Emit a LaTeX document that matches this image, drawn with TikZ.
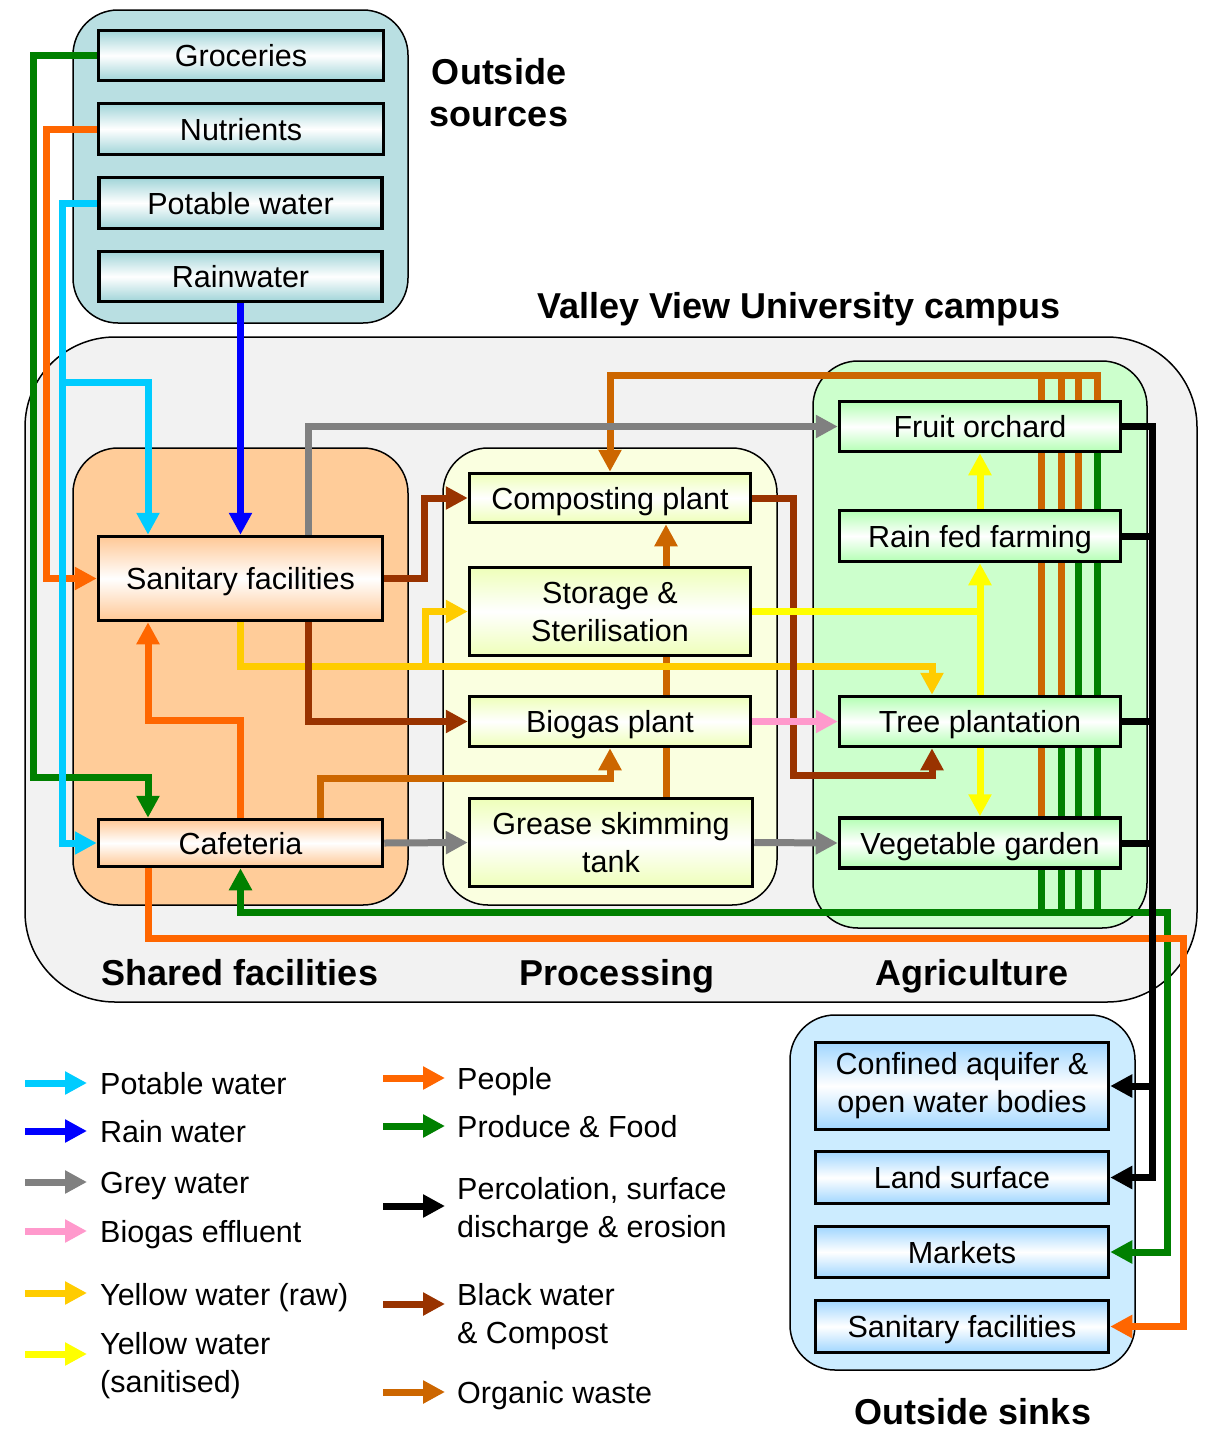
\documentclass[tikz,border=0pt]{standalone}
\usepackage{fontspec}
\setmainfont{Liberation Sans}
\usetikzlibrary{arrows.meta}
\pgfdeclarelayer{bg}
\pgfdeclarelayer{lines}
\pgfsetlayers{bg,lines,main}
\definecolor{cPot}{RGB}{0,204,255}
\definecolor{cRain}{RGB}{0,0,255}
\definecolor{cGrey}{RGB}{128,128,128}
\definecolor{cPink}{RGB}{255,153,204}
\definecolor{cYraw}{RGB}{255,204,0}
\definecolor{cYsan}{RGB}{255,255,0}
\definecolor{cPeople}{RGB}{255,102,0}
\definecolor{cProd}{RGB}{0,128,0}
\definecolor{cBW}{RGB}{153,51,0}
\definecolor{cOrg}{RGB}{204,102,0}
\definecolor{fSrc}{RGB}{185,223,226}
\definecolor{fCamp}{RGB}{242,242,242}
\definecolor{fShared}{RGB}{255,204,153}
\definecolor{fProc}{RGB}{250,255,224}
\definecolor{fAgri}{RGB}{204,255,204}
\definecolor{fSink}{RGB}{204,236,255}
\definecolor{gSrc}{RGB}{160,212,216}
\definecolor{gShared}{RGB}{255,200,150}
\definecolor{gProc}{RGB}{238,255,185}
\definecolor{gAgri}{RGB}{180,255,180}
\definecolor{gSink}{RGB}{160,214,255}
\newcommand\vvBoxFont{\fontsize{30.5}{38}\selectfont}
\newcommand\vvTitleFont{\fontsize{36}{42}\selectfont\bfseries}
\tikzset{
  conn/.style={line width=7pt},
  flow/.style={line width=7pt, -{Triangle[length=22pt,width=22pt]}},
  container/.style={draw=black, line width=1.5pt, rounded corners=45pt},
  box/.style={draw=black, line width=3.5pt, inner sep=0pt, align=center, font=\vvBoxFont},
  one/.style={text height=22pt, text depth=0pt},
  srcbox/.style={box, top color=gSrc, bottom color=gSrc, middle color=white},
  shbox/.style={box, top color=gShared, bottom color=gShared, middle color=white},
  prbox/.style={box, top color=gProc, bottom color=gProc, middle color=white},
  agbox/.style={box, top color=gAgri, bottom color=gAgri, middle color=white},
  skbox/.style={box, top color=gSink, bottom color=gSink, middle color=white},
  title/.style={font=\vvTitleFont, inner sep=0pt, align=center},
  titleone/.style={title, text height=26pt, text depth=0pt},
  legtext/.style={font=\vvBoxFont, inner sep=0pt, anchor=base west, align=left},
}
\begin{document}
\begin{tikzpicture}[x=1pt,y=-1pt]
\useasboundingbox (0,0) rectangle (1215,1430);

% ---------- boxes ----------
\node[srcbox,one,minimum width=285pt,minimum height=50pt] (groc) at (241,55.5) {Groceries};
\node[srcbox,one,minimum width=285pt,minimum height=51pt] (nutr) at (241,129) {Nutrients};
\node[srcbox,one,minimum width=283pt,minimum height=51pt] (pot) at (240.5,203) {Potable water};
\node[srcbox,one,minimum width=283pt,minimum height=50pt] (rain) at (240.5,276.5) {Rainwater};

\node[shbox,one,minimum width=284pt,minimum height=84pt] (san) at (240.5,578.5) {Sanitary facilities};
\node[shbox,one,minimum width=284pt,minimum height=47pt] (caf) at (240.5,843) {Cafeteria};

\node[prbox,one,minimum width=281pt,minimum height=49pt] (comp) at (610,498) {Composting plant};
\node[prbox,minimum width=281pt,minimum height=88pt] (stor) at (610,611.5) {Storage \&\\Sterilisation};
\node[prbox,one,minimum width=281pt,minimum height=50pt] (bio) at (610,721.5) {Biogas plant};
\node[prbox,minimum width=283pt,minimum height=88pt] (grease) at (611,842.5) {Grease skimming\\tank};

\node[agbox,one,minimum width=281pt,minimum height=50pt] (fruit) at (980,426.5) {Fruit orchard};
\node[agbox,one,minimum width=281pt,minimum height=51pt] (rf) at (980,536) {Rain fed farming};
\node[agbox,one,minimum width=281pt,minimum height=50pt] (tree) at (980,721.5) {Tree plantation};
\node[agbox,one,minimum width=281pt,minimum height=50pt] (veg) at (980,843) {Vegetable garden};

\node[skbox,minimum width=293pt,minimum height=87pt] (conf) at (962,1086) {Confined aquifer \&\\open water bodies};
\node[skbox,one,minimum width=293pt,minimum height=52pt] (land) at (962,1177.5) {Land surface};
\node[skbox,one,minimum width=293pt,minimum height=51pt] (mkt) at (962,1252) {Markets};
\node[skbox,one,minimum width=293pt,minimum height=52pt] (ssan) at (962,1326.5) {Sanitary facilities};

% ---------- titles ----------
\node[title] (tsrc) at (499,93) {Outside\\sources};
\node[titleone] (tcamp) at (799,305) {Valley View University campus};
\node[titleone] (tshared) at (240,972) {Shared facilities};
\node[titleone] (tproc) at (617,972) {Processing};
\node[titleone] (tagri) at (972,972) {Agriculture};
\node[titleone] (tsinks) at (973,1411) {Outside sinks};

% ---------- legend ----------
\node[legtext] (lpot) at (100,1094) {Potable water};
\node[legtext] (lrain) at (100,1142) {Rain water};
\node[legtext] (lgrey) at (100,1193) {Grey water};
\node[legtext] (lbio) at (100,1242) {Biogas effluent};
\node[legtext] (lyraw) at (100,1305) {Yellow water (raw)};
\node[legtext] (lysan) at (100,1392) {Yellow water\\(sanitised)};
\node[legtext] (lpeo) at (457,1089) {People};
\node[legtext] (lprod) at (457,1137) {Produce \& Food};
\node[legtext] (lperc) at (457,1237) {Percolation, surface\\discharge \& erosion};
\node[legtext] (lbw) at (457,1343) {Black water\\\& Compost};
\node[legtext] (lorg) at (457,1403) {Organic waste};

\draw[flow,cPot] (25,1083) -- (87,1083);
\draw[flow,cRain] (25,1131) -- (87,1131);
\draw[flow,cGrey] (25,1182) -- (87,1182);
\draw[flow,cPink] (25,1231) -- (87,1231);
\draw[flow,cYraw] (25,1293) -- (87,1293);
\draw[flow,cYsan] (25,1354) -- (87,1354);
\draw[flow,cPeople] (383,1078) -- (445,1078);
\draw[flow,cProd] (383,1126) -- (445,1126);
\draw[flow,black] (383,1206) -- (445,1206);
\draw[flow,cBW] (383,1304) -- (445,1304);
\draw[flow,cOrg] (383,1392) -- (445,1392);

% ---------- containers ----------
\begin{pgfonlayer}{bg}
\fill[white] (0,0) rectangle (1215,1430);
\draw[container, fill=fSrc] (73,10) rectangle (408,323);
\draw[container, fill=fCamp, rounded corners=90pt] (25,337) rectangle (1197,1002);
\draw[container, fill=fShared] (73,448) rectangle (408,905);
\draw[container, fill=fProc] (443,448) rectangle (777,905);
\draw[container, fill=fAgri] (813,361) rectangle (1147,928);
\draw[container, fill=fSink] (790,1015) rectangle (1135,1370);
\end{pgfonlayer}

% ---------- connectors ----------
\begin{pgfonlayer}{lines}
% organic waste from agriculture to composting
\draw[conn,cOrg] ([xshift=98pt]rf.north) -- ++(0,-133);
\draw[conn,cOrg] ([xshift=81pt]tree.north) -- ++(0,-319);
\draw[conn,cOrg] ([xshift=61pt]veg.north) -- ++(0,-440.5);
\draw[flow,cOrg] ([xshift=117pt]fruit.north) |- ([yshift=96pt]comp.north) -- (comp.north);
% produce from agriculture
\draw[conn,cProd] ([xshift=117pt]fruit.south) -- ++(0,460.5);
\draw[conn,cProd] ([xshift=98pt]rf.south) -- ++(0,350.5);
\draw[conn,cProd] ([xshift=81pt]tree.south) -- ++(0,165.5);
\draw[conn,cProd] ([xshift=61pt]veg.south) -- ++(0,44);
\coordinate (gstart) at (1100,912);
\draw[flow,cProd] (gstart) -| (caf.south);
\coordinate (gstart2) at (1041,912);
\draw[flow,cProd] (gstart2) -| ([xshift=57pt]mkt.east) -- (mkt.east);
% grease -> composting (organic)
\draw[flow,cOrg] ([xshift=55pt]grease.north) -- ([xshift=56pt]comp.south);
% grey water
\draw[flow,cGrey] ([xshift=67.5pt]san.north) |- (fruit.west);
\draw[flow,cGrey] (caf.east) -- (grease.west);
\draw[flow,cGrey] (grease.east) -- (veg.west);
% yellow raw
\draw[flow,cYraw] (san.south) |- ([xshift=-48pt,yshift=28pt]tree.north) -- ([xshift=-48pt]tree.north);
\coordinate (yrj) at (425,668.5);
\draw[flow,cYraw] (yrj) |- (stor.west);
% black water & compost
\draw[flow,cBW] (san.east) -| ([xshift=-43pt]comp.west) -- (comp.west);
\draw[flow,cBW] ([xshift=67.5pt]san.south) |- (bio.west);
\draw[flow,cBW] (comp.east) -| (793,775) -| ([xshift=-48pt]tree.south);
% yellow sanitised
\draw[flow,cYsan] (stor.east) -| (rf.south);
\draw[flow,cYsan] (rf.north) -- (fruit.south);
\coordinate (ysj) at (980,611.5);
\draw[flow,cYsan] (ysj) -- (veg.north);
% biogas effluent
\draw[flow,cPink] (bio.east) -- (tree.west);
% organic cafeteria -> biogas
\draw[flow,cOrg] ([xshift=79.5pt]caf.north) |- ([yshift=-30pt]bio.south) -- (bio.south);
% groceries
\draw[flow,cProd] (groc.west) -| (33,777) -| ([xshift=-92.5pt]caf.north);
% nutrients
\draw[flow,cPeople] (nutr.west) -| ([xshift=-50pt]san.west) -- (san.west);
% people
\draw[flow,cPeople] (caf.north) |- ([xshift=-92.5pt,yshift=-98pt]san.south) -- ([xshift=-92.5pt]san.south);
\draw[flow,cPeople] ([xshift=-92.5pt]caf.south) |- (1183,938) |- (ssan.east);
% potable water
\draw[flow,cPot] (pot.west) -| ([xshift=-34pt]caf.west) -- (caf.west);
\coordinate (pwj) at (64.5,382);
\draw[flow,cPot] (pwj) -| ([xshift=-92.5pt]san.north);
% rain water
\draw[flow,cRain] (rain.south) -- (san.north);
% percolation
\draw[conn,black] (rf.east) -- ++(30,0);
\draw[conn,black] (tree.east) -- ++(30,0);
\draw[conn,black] (veg.east) -- ++(30,0);
\draw[flow,black] (fruit.east) -| ([xshift=42pt]land.east) -- (land.east);
\draw[flow,black] ([xshift=42pt]conf.east) -- (conf.east);
\end{pgfonlayer}
\end{tikzpicture}
\end{document}
